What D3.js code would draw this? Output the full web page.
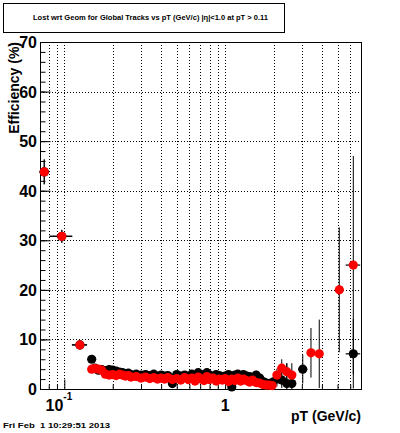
<!DOCTYPE html>
<html><head><meta charset="utf-8">
<script src="https://cdn.jsdelivr.net/npm/d3@7"></script>
<style>
html,body{margin:0;padding:0;background:#fff;}
svg{display:block;font-family:"Liberation Sans",Arial,Helvetica,sans-serif;}
</style></head>
<body>
<script>
// ---- data ----
const pt = [0.075,0.0965,0.125,0.148,0.155,0.163,0.171,0.18,0.19,0.20,
            0.21,0.22,0.23,0.24,0.25,0.26,0.28,0.30,0.32,0.34,
            0.36,0.38,0.40,0.42,0.44,0.47,0.50,0.53,0.56,0.59,
            0.62,0.65,0.68,0.71,0.74,0.77,0.80,0.84,0.88,0.92,
            0.96,1.00,1.05,1.10,1.15,1.20,1.25,1.30,1.36,1.42,
            1.48,1.56,1.64,1.72,1.80,1.88,1.96,2.10,2.25,2.42,
            2.60,3.04,3.42,3.85,5.13,6.27];
const ptHalfWidth = [0.005,0.0155,0.0135,0.004,0.004,0.004,0.004,0.005,0.005,0.005,
            0.005,0.005,0.005,0.005,0.005,0.005,0.01,0.01,0.01,0.01,
            0.01,0.01,0.01,0.01,0.01,0.015,0.015,0.015,0.015,0.015,
            0.015,0.015,0.015,0.015,0.015,0.015,0.02,0.02,0.02,0.02,
            0.02,0.025,0.025,0.025,0.025,0.025,0.025,0.03,0.03,0.03,
            0.04,0.04,0.04,0.04,0.04,0.04,0.04,0.08,0.08,0.08,
            0.08,0.2,0.2,0.2,0.3,0.65];
const effBlack = [43.8,30.8,8.9,6.0,4.2,3.8,3.9,3.7,3.9,3.8,
            3.6,3.4,3.3,3.1,3.2,2.9,3.0,2.8,2.9,2.7,
            3.0,2.6,2.8,2.6,2.7,1.1,2.9,2.6,2.8,2.5,
            3.0,2.7,3.3,2.9,2.6,3.3,2.8,2.5,2.9,2.7,
            2.4,2.6,2.9,0.4,2.8,3.0,2.7,2.9,2.6,2.5,
            2.3,2.8,2.2,1.5,1.2,1.0,1.3,2.0,1.8,1.1,
            1.1,4.0,null,null,null,7.1];
const errBlack = [2.5,1.3,0.9,0.6,0.5,0.5,0.5,0.4,0.4,0.4,
            0.4,0.4,0.4,0.4,0.4,0.4,0.4,0.4,0.4,0.4,
            0.4,0.4,0.4,0.4,0.4,0.4,0.4,0.4,0.4,0.4,
            0.5,0.5,0.5,0.5,0.5,0.5,0.5,0.5,0.5,0.5,
            0.5,0.5,0.6,0.4,0.6,0.6,0.6,0.7,0.7,0.7,
            0.8,0.9,0.9,0.9,1.0,1.0,1.1,1.5,1.6,4.1,
            2.0,2.9,0,0,0,7.0];
const effRed = [43.8,30.8,8.9,4.0,4.1,4.0,3.8,3.0,2.8,2.9,
            2.7,3.0,2.8,2.6,2.7,2.4,2.5,2.2,2.4,2.1,
            2.3,2.0,2.2,2.0,2.3,1.9,2.1,1.8,2.3,1.9,
            2.2,1.6,2.4,2.0,1.7,2.5,1.9,2.2,1.6,2.0,
            1.8,2.1,1.5,2.0,1.7,2.2,1.6,2.0,1.7,1.4,
            1.8,1.3,1.2,0.9,0.8,0.8,0.7,2.8,4.2,3.5,
            2.8,null,7.3,7.1,20.0,25.0];
const errRed = [2.5,1.3,0.9,0.5,0.5,0.5,0.4,0.4,0.4,0.4,
            0.4,0.4,0.4,0.4,0.4,0.4,0.4,0.4,0.4,0.4,
            0.4,0.4,0.4,0.4,0.4,0.4,0.4,0.4,0.4,0.4,
            0.4,0.4,0.4,0.4,0.4,0.4,0.4,0.4,0.4,0.4,
            0.4,0.4,0.5,0.5,0.5,0.5,0.5,0.5,0.5,0.5,
            0.6,0.6,0.6,0.6,0.6,0.7,0.7,1.3,1.8,1.7,
            2.4,0,5.0,6.9,12.6,22.0];
const yTicks = [0,10,20,30,40,50,60,70];
const xLabelTicks = [0.1, 1];
const xGridTicks = [0.08,0.09,0.1,0.2,0.3,0.4,0.5,0.6,0.7,0.8,0.9,1,2,3,4,5,6];
const titleText = "Lost wrt Geom for Global Tracks vs pT (GeV/c) |\u03b7|<1.0 at pT > 0.11";
const dateText = "Fri Feb  1 10:29:51 2013";

// ---- layout ----
const W = 400, H = 433;
const L = 40, R = 361, T = 42, B = 389;
const svg = d3.select("body").append("svg").attr("width", W).attr("height", H);
svg.append("rect").attr("width", W).attr("height", H).attr("fill", "#fff");

const x = d3.scaleLog().domain([0.0706, 7.0]).range([L, R]);
const y = d3.scaleLinear().domain([0, 70]).range([B, T]);

// grid
const grid = svg.append("g").attr("stroke", "#000").attr("stroke-width", 1).attr("stroke-dasharray", "1,2");
grid.selectAll("line.h").data(yTicks.filter(v => v > 0 && v < 70)).join("line")
  .attr("x1", L).attr("x2", R).attr("y1", d => Math.round(y(d)) + 0.5).attr("y2", d => Math.round(y(d)) + 0.5);
grid.selectAll("line.v").data(xGridTicks).join("line")
  .attr("y1", T).attr("y2", B).attr("x1", d => Math.round(x(d)) + 0.5).attr("x2", d => Math.round(x(d)) + 0.5);

// y axis ticks (inside) via d3 axis
const yMinor = d3.range(0, 70.01, 2);
const yAx = svg.append("g").attr("transform", `translate(${L + 0.5},0)`);
yAx.call(d3.axisRight(y).tickValues(yMinor).tickSize(5).tickFormat(""));
yAx.append("g").call(d3.axisRight(y).tickValues(yTicks).tickSize(10).tickFormat(""));
yAx.selectAll(".domain").remove();
yAx.selectAll("line").attr("stroke", "#000");

// y labels
svg.append("g").selectAll("text").data(yTicks).join("text")
  .attr("x", L - 3).attr("y", d => y(d) + 6)
  .attr("text-anchor", "end").attr("font-size", 16).attr("font-weight", "bold")
  .text(d => d);

// x axis ticks (inside, log)
const xMinorTicks = [0.08,0.09,0.2,0.3,0.4,0.5,0.6,0.7,0.8,0.9,2,3,4,5,6,7];
const xAx = svg.append("g").attr("transform", `translate(0,${B + 0.5})`);
xAx.call(d3.axisTop(x).tickValues(xMinorTicks).tickSize(5).tickFormat(""));
xAx.append("g").call(d3.axisTop(x).tickValues(xLabelTicks).tickSize(10).tickFormat(""));
xAx.selectAll(".domain").remove();
xAx.selectAll("line").attr("stroke", "#000");

// x labels
const xl = svg.append("g").attr("font-weight", "bold");
xl.append("text").attr("x", x(0.1) - 1).attr("y", 411).attr("text-anchor", "end").attr("font-size", 16).text("10");
xl.append("text").attr("x", x(0.1) - 1).attr("y", 400).attr("font-size", 10).text("-1");
xl.append("text").attr("x", x(1)).attr("y", 411).attr("text-anchor", "middle").attr("font-size", 16).text("1");

// frame
svg.append("rect").attr("x", L + 0.5).attr("y", T + 0.5).attr("width", R - L).attr("height", B - T)
  .attr("fill", "none").attr("stroke", "#000").attr("stroke-width", 1);

// data
const rows = pt.map((p, i) => ({p, hw: ptHalfWidth[i], b: effBlack[i], eb: errBlack[i], r: effRed[i], er: errRed[i]}));
function drawSeries(key, ekey, color) {
  const g = svg.append("g");
  const d = rows.filter(r => r[key] !== null);
  g.selectAll("line.ev").data(d).join("line")
    .attr("x1", r => x(r.p)).attr("x2", r => x(r.p))
    .attr("y1", r => y(Math.min(70, r[key] + r[ekey]))).attr("y2", r => y(Math.max(0, r[key] - r[ekey])))
    .attr("stroke", "#000").attr("stroke-width", 1);
  g.selectAll("line.eh").data(d).join("line")
    .attr("x1", r => x(r.p - r.hw)).attr("x2", r => x(r.p + r.hw))
    .attr("y1", r => y(r[key])).attr("y2", r => y(r[key]))
    .attr("stroke", "#000").attr("stroke-width", 1.2);
  g.selectAll("circle").data(d).join("circle")
    .attr("cx", r => x(r.p)).attr("cy", r => y(r[key])).attr("r", 4.6)
    .attr("fill", color);
}
drawSeries("b", "eb", "#000");
drawSeries("r", "er", "#ff0000");

// title box
svg.append("rect").attr("x", 3.5).attr("y", 3.5).attr("width", 281).attr("height", 29)
  .attr("fill", "#fff").attr("stroke", "#000").attr("stroke-width", 1);
svg.append("text").attr("x", 33).attr("y", 20).attr("font-size", 8).attr("font-weight", "bold")
  .attr("textLength", 235).attr("lengthAdjust", "spacingAndGlyphs").text(titleText);

// axis titles
svg.append("text").attr("transform", `translate(19,${T}) rotate(-90)`)
  .attr("text-anchor", "end").attr("font-size", 14).attr("font-weight", "bold").text("Efficiency (%)");
svg.append("text").attr("x", R).attr("y", 421).attr("text-anchor", "end")
  .attr("font-size", 14).attr("font-weight", "bold").text("pT (GeV/c)");

// date
svg.append("text").attr("x", 3).attr("y", 428).attr("font-size", 8).attr("font-weight", "bold")
  .attr("textLength", 107).attr("lengthAdjust", "spacingAndGlyphs")
  .style("white-space", "pre").text(dateText);
</script>
</body></html>
